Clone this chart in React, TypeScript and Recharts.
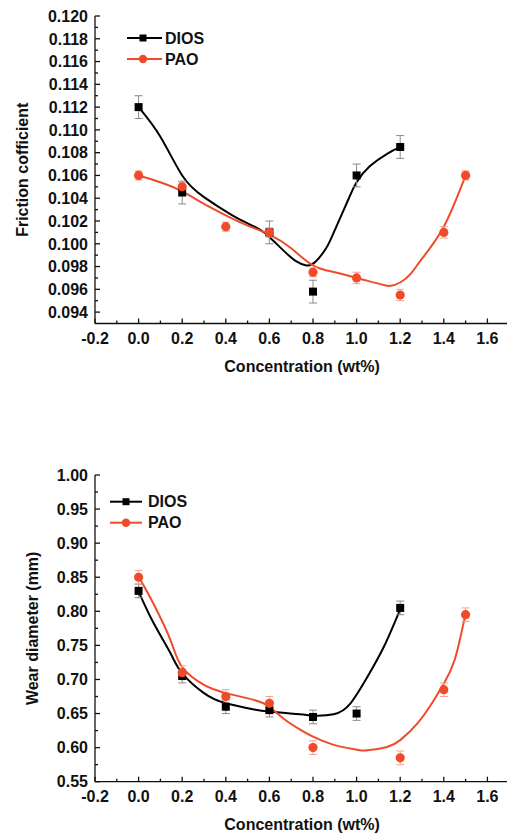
import React from 'react';
import { ComposedChart, Line, Scatter, XAxis, YAxis, ErrorBar, Label } from 'recharts';

// ---------- data ----------
const xMajor = [-0.2, 0, 0.2, 0.4, 0.6, 0.8, 1.0, 1.2, 1.4, 1.6];
const xMinor = [-0.1, 0.1, 0.3, 0.5, 0.7, 0.9, 1.1, 1.3, 1.5];

const fricMajor = [0.094, 0.096, 0.098, 0.1, 0.102, 0.104, 0.106, 0.108, 0.11, 0.112, 0.114, 0.116, 0.118, 0.12];
const fricMinor = [0.095, 0.097, 0.099, 0.101, 0.103, 0.105, 0.107, 0.109, 0.111, 0.113, 0.115, 0.117, 0.119];

const wearMajor = [0.55, 0.6, 0.65, 0.7, 0.75, 0.8, 0.85, 0.9, 0.95, 1.0];
const wearMinor = [0.575, 0.625, 0.675, 0.725, 0.775, 0.825, 0.875, 0.925, 0.975];

const diosFricPts = [
  { x: 0, y: 0.112, e: 0.001 },
  { x: 0.2, y: 0.1045, e: 0.001 },
  { x: 0.6, y: 0.101, e: 0.001 },
  { x: 0.8, y: 0.0958, e: 0.001 },
  { x: 1.0, y: 0.106, e: 0.001 },
  { x: 1.2, y: 0.1085, e: 0.001 },
];
const paoFricPts = [
  { x: 0, y: 0.106, e: 0.0004 },
  { x: 0.2, y: 0.105, e: 0.0004 },
  { x: 0.4, y: 0.1015, e: 0.0004 },
  { x: 0.6, y: 0.101, e: 0.0004 },
  { x: 0.8, y: 0.0975, e: 0.0004 },
  { x: 1.0, y: 0.097, e: 0.0005 },
  { x: 1.2, y: 0.0955, e: 0.0005 },
  { x: 1.4, y: 0.101, e: 0.0005 },
  { x: 1.5, y: 0.106, e: 0.0004 },
];
const diosFricFit = [
  { x: 0, y: 0.112 }, { x: 0.1, y: 0.1094 }, { x: 0.2, y: 0.1060 }, { x: 0.3, y: 0.1041 },
  { x: 0.43, y: 0.1025 }, { x: 0.5, y: 0.1018 }, { x: 0.56, y: 0.1012 }, { x: 0.6, y: 0.1006 },
  { x: 0.665, y: 0.0994 }, { x: 0.72, y: 0.0985 }, { x: 0.77, y: 0.0981 }, { x: 0.81, y: 0.0984 },
  { x: 0.86, y: 0.0996 }, { x: 0.9, y: 0.1012 }, { x: 0.96, y: 0.1038 }, { x: 1.0, y: 0.1054 },
  { x: 1.06, y: 0.1068 }, { x: 1.14, y: 0.1079 }, { x: 1.2, y: 0.1085 },
];
const paoFricFit = [
  { x: 0, y: 0.106 }, { x: 0.1, y: 0.1054 }, { x: 0.2, y: 0.1046 }, { x: 0.3, y: 0.1035 },
  { x: 0.4, y: 0.1025 }, { x: 0.5, y: 0.1016 }, { x: 0.6, y: 0.1008 }, { x: 0.7, y: 0.0996 },
  { x: 0.8, y: 0.0981 }, { x: 0.9, y: 0.0975 }, { x: 1.0, y: 0.097 }, { x: 1.1, y: 0.0965 },
  { x: 1.15, y: 0.0963 }, { x: 1.2, y: 0.0966 }, { x: 1.25, y: 0.0974 }, { x: 1.3, y: 0.0987 },
  { x: 1.4, y: 0.1015 }, { x: 1.5, y: 0.106 },
];

const diosWearPts = [
  { x: 0, y: 0.83, e: 0.01 },
  { x: 0.2, y: 0.705, e: 0.01 },
  { x: 0.4, y: 0.66, e: 0.01 },
  { x: 0.6, y: 0.655, e: 0.01 },
  { x: 0.8, y: 0.645, e: 0.01 },
  { x: 1.0, y: 0.65, e: 0.01 },
  { x: 1.2, y: 0.805, e: 0.01 },
];
const paoWearPts = [
  { x: 0, y: 0.85, e: 0.01 },
  { x: 0.2, y: 0.71, e: 0.01 },
  { x: 0.4, y: 0.675, e: 0.01 },
  { x: 0.6, y: 0.665, e: 0.01 },
  { x: 0.8, y: 0.6, e: 0.01 },
  { x: 1.2, y: 0.585, e: 0.01 },
  { x: 1.4, y: 0.685, e: 0.01 },
  { x: 1.5, y: 0.795, e: 0.01 },
];
const diosWearFit = [
  { x: 0, y: 0.829 }, { x: 0.07, y: 0.782 }, { x: 0.147, y: 0.738 }, { x: 0.2, y: 0.709 },
  { x: 0.3, y: 0.68 }, { x: 0.4, y: 0.665 }, { x: 0.53, y: 0.656 }, { x: 0.6, y: 0.653 },
  { x: 0.74, y: 0.649 }, { x: 0.8, y: 0.647 }, { x: 0.895, y: 0.649 }, { x: 0.972, y: 0.665 },
  { x: 1.05, y: 0.704 }, { x: 1.125, y: 0.748 }, { x: 1.2, y: 0.803 },
];
const paoWearFit = [
  { x: 0, y: 0.851 }, { x: 0.07, y: 0.81 }, { x: 0.147, y: 0.757 }, { x: 0.2, y: 0.718 },
  { x: 0.3, y: 0.692 }, { x: 0.4, y: 0.68 }, { x: 0.53, y: 0.67 }, { x: 0.6, y: 0.66 },
  { x: 0.667, y: 0.642 }, { x: 0.743, y: 0.626 }, { x: 0.8, y: 0.616 }, { x: 0.895, y: 0.604 },
  { x: 1.0, y: 0.597 }, { x: 1.05, y: 0.596 }, { x: 1.14, y: 0.601 }, { x: 1.2, y: 0.611 },
  { x: 1.28, y: 0.636 }, { x: 1.355, y: 0.67 }, { x: 1.4, y: 0.694 }, { x: 1.45, y: 0.729 },
  { x: 1.5, y: 0.797 },
];

// ---------- styles ----------
const RED = '#EF4B2A';
const BLACK = '#000000';
const FONT = "'Liberation Sans', Arial, sans-serif";
const AXIS = { stroke: '#111', strokeWidth: 1.3 };

const squareShape = (p: any) => (
  <rect x={p.cx - 4} y={p.cy - 4} width={8} height={8} fill={BLACK} />
);
const circleShape = (p: any) => <circle cx={p.cx} cy={p.cy} r={4.6} fill={RED} />;

const makeXTick = (majors: number[]) => (p: any) => {
  const v = p.payload.value;
  const major = majors.includes(v);
  return (
    <g>
      <line x1={p.x} y1={p.y} x2={p.x} y2={p.y - (major ? 5 : 3)} stroke="#111" strokeWidth={1.3} />
      {major && (
        <text x={p.x} y={p.y + 20} textAnchor="middle" fontFamily={FONT} fontWeight="bold" fontSize={16} fill="#111">
          {v.toFixed(1)}
        </text>
      )}
    </g>
  );
};
const makeYTick = (majors: number[], digits: number) => (p: any) => {
  const v = p.payload.value;
  const major = majors.includes(v);
  return (
    <g>
      <line x1={p.x} y1={p.y} x2={p.x + (major ? 5 : 3)} y2={p.y} stroke="#111" strokeWidth={1.3} />
      {major && (
        <text x={p.x - 7} y={p.y} dy="0.36em" textAnchor="end" fontFamily={FONT} fontWeight="bold" fontSize={16} fill="#111">
          {v.toFixed(digits)}
        </text>
      )}
    </g>
  );
};

const xTitle = (props: any) => {
  const vb = props.viewBox;
  return (
    <text x={vb.x + vb.width / 2} y={vb.y + 48} textAnchor="middle" fontFamily={FONT} fontWeight="bold" fontSize={16} fill="#111">
      Concentration (wt%)
    </text>
  );
};
const makeYTitle = (text: string, xPos: number) => (props: any) => {
  const vb = props.viewBox;
  const cy = vb.y + vb.height / 2;
  return (
    <text x={xPos} y={cy} transform={`rotate(-90, ${xPos}, ${cy})`} textAnchor="middle" fontFamily={FONT} fontWeight="bold" fontSize={16} fill="#111">
      {text}
    </text>
  );
};

const LegendBox = ({ top, lineX1, lineX2, markX, textX, row1, row2 }: any) => (
  <svg style={{ position: 'absolute', left: 0, top: top, overflow: 'visible' }} width={220} height={60}>
    <line x1={lineX1} y1={row1} x2={lineX2} y2={row1} stroke={BLACK} strokeWidth={2} />
    <rect x={markX - 3.5} y={row1 - 3.5} width={7} height={7} fill={BLACK} />
    <text x={textX} y={row1} dy="0.36em" fontFamily={FONT} fontWeight="bold" fontSize={16} fill="#111">DIOS</text>
    <line x1={lineX1} y1={row2} x2={lineX2} y2={row2} stroke={RED} strokeWidth={2} />
    <circle cx={markX} cy={row2} r={4.2} fill={RED} />
    <text x={textX} y={row2} dy="0.36em" fontFamily={FONT} fontWeight="bold" fontSize={16} fill="#111">PAO</text>
  </svg>
);

const Panel = ({ top, height, marginTop, xAxisHeight, yDomain, yMajor, yMinor, digits, yTitle, yTitleX, dPts, pPts, dFit, pFit }: any) => (
  <div style={{ position: 'absolute', left: 0, top: top }}>
    <ComposedChart width={510} height={height} margin={{ top: marginTop, right: 0.8, bottom: 0, left: 0 }}>
      <XAxis
        dataKey="x"
        type="number"
        domain={[-0.2, 1.7]}
        allowDataOverflow
        ticks={[...xMajor, ...xMinor]}
        interval={0}
        tickSize={0}
        tickMargin={0}
        tickLine={false}
        axisLine={AXIS}
        tick={makeXTick(xMajor)}
        height={xAxisHeight}
      >
        <Label content={xTitle} />
      </XAxis>
      <XAxis xAxisId="top" orientation="top" type="number" domain={[-0.2, 1.7]} height={0} tick={false} tickLine={false} axisLine={AXIS} />
      <YAxis
        dataKey="y"
        type="number"
        domain={yDomain}
        allowDataOverflow
        ticks={[...yMajor, ...yMinor]}
        interval={0}
        tickSize={0}
        tickMargin={0}
        tickLine={false}
        axisLine={AXIS}
        tick={makeYTick(yMajor, digits)}
        width={95}
      >
        <Label content={makeYTitle(yTitle, yTitleX)} />
      </YAxis>
      <Line data={dFit} dataKey="y" type="natural" stroke={BLACK} strokeWidth={2} dot={false} activeDot={false} isAnimationActive={false} />
      <Line data={pFit} dataKey="y" type="natural" stroke={RED} strokeWidth={2} dot={false} activeDot={false} isAnimationActive={false} />
      <Scatter data={dPts} dataKey="y" shape={squareShape} isAnimationActive={false}>
        <ErrorBar dataKey="e" direction="y" width={4} stroke="#8a8a8a" strokeWidth={1} />
      </Scatter>
      <Scatter data={pPts} dataKey="y" shape={circleShape} isAnimationActive={false}>
        <ErrorBar dataKey="e" direction="y" width={4} stroke="#F3A393" strokeWidth={1} />
      </Scatter>
    </ComposedChart>
  </div>
);

export default function App() {
  return (
    <div style={{ position: 'absolute', left: 0, top: 0, width: 507, height: 839, overflow: 'hidden', background: '#fff' }}>
      <Panel
        top={0}
        height={384}
        marginTop={16}
        xAxisHeight={60.5}
        yDomain={[0.093, 0.12]}
        yMajor={fricMajor}
        yMinor={fricMinor}
        digits={3}
        yTitle="Friction cofficient"
        yTitleX={28}
        dPts={diosFricPts}
        pPts={paoFricPts}
        dFit={diosFricFit}
        pFit={paoFricFit}
      />
      <Panel
        top={440}
        height={399}
        marginTop={35}
        xAxisHeight={57.3}
        yDomain={[0.55, 1.0]}
        yMajor={wearMajor}
        yMinor={wearMinor}
        digits={2}
        yTitle="Wear diameter (mm)"
        yTitleX={38}
        dPts={diosWearPts}
        pPts={paoWearPts}
        dFit={diosWearFit}
        pFit={paoWearFit}
      />
      <LegendBox top={0} lineX1={127} lineX2={162} markX={143} textX={165} row1={38} row2={59} />
      <LegendBox top={440} lineX1={110} lineX2={142} markX={126} textX={148} row1={61.7} row2={82.7} />
    </div>
  );
}
